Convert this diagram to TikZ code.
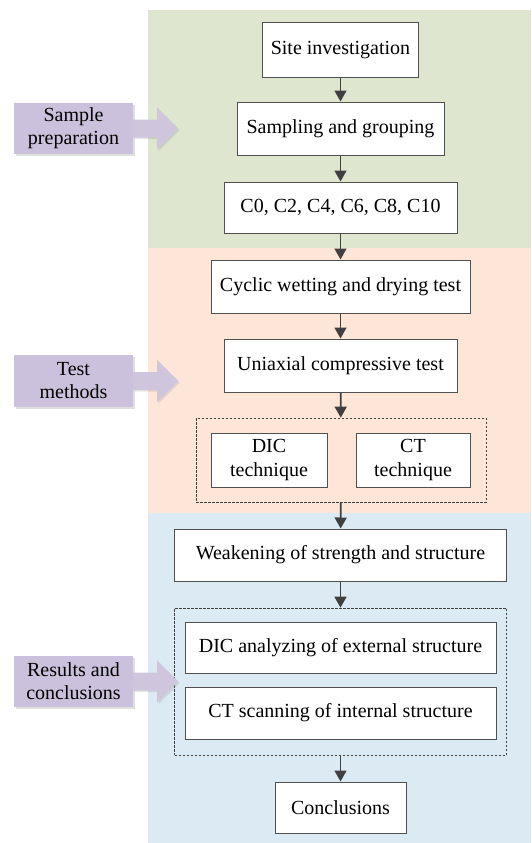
\documentclass[tikz,border=0pt]{standalone}
\usepackage{fontspec}
\setmainfont{Liberation Serif}
\usetikzlibrary{arrows.meta,shadows,calc}
\definecolor{pgreen}{HTML}{DEE6CF}
\definecolor{ppeach}{HTML}{FDE6D8}
\definecolor{pblue}{HTML}{DCEBF3}
\definecolor{lpurple}{HTML}{CCC1DC}
\definecolor{apurple}{HTML}{CFC6DE}
\definecolor{bordergray}{HTML}{505050}
\definecolor{arrgray}{HTML}{404040}
\tikzset{
  flowbox/.style={draw=bordergray, line width=1pt, fill=white, inner sep=0pt, align=center,
    font=\fontsize{20}{24}\selectfont},
  dashbox/.style={draw=arrgray, dashed, dash pattern=on 2.5pt off 1.5pt, line width=0.7pt, inner sep=0pt},
  labelbox/.style={fill=lpurple, inner sep=0pt, align=center, font=\fontsize{20}{23}\selectfont,
    minimum width=119pt, drop shadow={shadow xshift=2pt, shadow yshift=-2pt, opacity=0.25, fill=gray}},
  flowarr/.style={draw=arrgray, line width=1.7pt, -{Triangle[length=11pt,width=12pt]}},
  blockarr/.style={fill=apurple, drop shadow={shadow xshift=1.5pt, shadow yshift=-1.5pt, opacity=0.2, fill=gray}},
}
\begin{document}
\begin{tikzpicture}[x=1pt,y=-1pt]
\useasboundingbox (0,0) rectangle (531,843);
% panels
\fill[pgreen] (148,10) rectangle (531,248);
\fill[ppeach] (148,248) rectangle (531,513);
\fill[pblue] (148,513) rectangle (531,843);
% flow boxes
\node[flowbox, minimum width=156pt, minimum height=54pt] (site) at (340.5,50) {Site investigation};
\node[flowbox, minimum width=207pt, minimum height=53pt] (samp) at (340.5,128.5) {Sampling and grouping};
\node[flowbox, minimum width=233pt, minimum height=51pt] (grp) at (340.5,207.5) {C0, C2, C4, C6, C8, C10};
\node[flowbox, minimum width=259pt, minimum height=53pt] (cyc) at (340.5,286.5) {Cyclic wetting and drying test};
\node[flowbox, minimum width=233pt, minimum height=53pt] (uni) at (340.5,365.5) {Uniaxial compressive test};
\node[dashbox, minimum width=290pt, minimum height=84pt] (dash1) at (341,460) {};
\node[flowbox, minimum width=116pt, minimum height=54pt] (dict) at (269,460) {DIC\\technique};
\node[flowbox, minimum width=114pt, minimum height=54pt] (ctt) at (413,460) {CT\\technique};
\node[flowbox, minimum width=332pt, minimum height=52pt] (weak) at (340.5,555) {Weakening of strength and structure};
\node[dashbox, minimum width=332pt, minimum height=147pt] (dash2) at (340.5,681.5) {};
\node[flowbox, minimum width=311pt, minimum height=51pt] (dica) at (340.5,647.5) {DIC analyzing of external structure};
\node[flowbox, minimum width=311pt, minimum height=52pt] (cts) at (340.5,713) {CT scanning of internal structure};
\node[flowbox, minimum width=131pt, minimum height=51pt] (conc) at (340.5,807.5) {Conclusions};
% flow arrows
\draw[flowarr] (site) -- (samp);
\draw[flowarr] (samp) -- (grp);
\draw[flowarr] (grp) -- (cyc);
\draw[flowarr] (cyc) -- (uni);
\draw[flowarr] (uni) -- (dash1);
\draw[flowarr] (dash1) -- (weak);
\draw[flowarr] (weak) -- (dash2);
\draw[flowarr] (dash2) -- (conc);
% side labels
\node[labelbox, minimum height=51pt] (l1) at (73.5,128.5) {Sample\\preparation};
\node[labelbox, minimum height=52pt] (l2) at (73.5,381) {Test\\methods};
\node[labelbox, minimum height=51pt] (l3) at (73.5,681.5) {Results and\\conclusions};
\foreach \l in {l1,l2,l3}{
  \path[blockarr] (\l.east) ++(0,-9) -- ++(24,0) -- ++(0,-12) -- ++(21,21) -- ++(-21,21) -- ++(0,-12) -- ++(-24,0) -- cycle;
}
\end{tikzpicture}
\end{document}
